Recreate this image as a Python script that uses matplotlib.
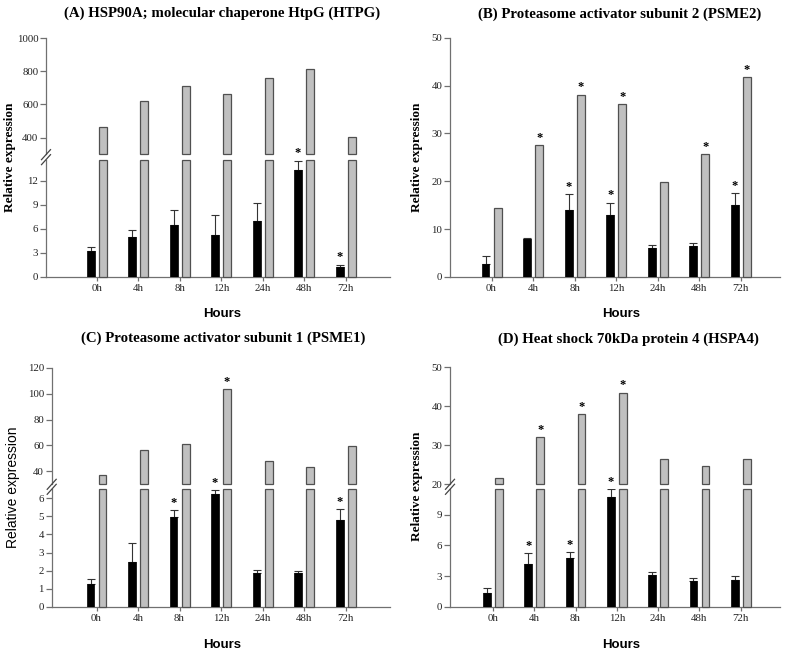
import numpy as np
import matplotlib
matplotlib.use('Agg')
import matplotlib.pyplot as plt
from matplotlib.lines import Line2D

W, H = 789, 652
hours = ['0h', '4h', '8h', '12h', '24h', '48h', '72h']

# (A) HTPG
a_black = [3.25, 4.95, 6.45, 5.25, 7.05, 13.3, 1.2]
a_black_err = [0.55, 0.9, 1.95, 2.5, 2.2, 1.2, 0.35]
a_grey = [466, 622, 710, 660, 762, 816, 404]
a_black_sig = [0, 0, 0, 0, 0, 1, 1]
a_grey_sig = [0, 0, 0, 0, 0, 0, 0]

# (B) PSME2
b_black = [2.7, 7.95, 13.9, 12.9, 6.0, 6.5, 15.1]
b_black_err = [1.6, 0.3, 3.4, 2.6, 0.7, 0.7, 2.4]
b_grey = [14.35, 27.5, 38.1, 36.1, 19.8, 25.6, 41.7]
b_black_sig = [0, 0, 1, 1, 0, 0, 1]
b_grey_sig = [0, 1, 1, 1, 0, 1, 1]

# (C) PSME1
c_black = [1.24, 2.48, 4.96, 6.22, 1.89, 1.89, 4.81]
c_black_err = [0.28, 1.04, 0.39, 0.24, 0.16, 0.09, 0.59]
c_grey = [37.4, 56.8, 61.4, 103.5, 48.3, 43.1, 59.9]
c_black_sig = [0, 0, 1, 1, 0, 0, 1]
c_grey_sig = [0, 0, 0, 1, 0, 0, 0]

# (D) HSPA4
d_black = [1.31, 4.18, 4.8, 10.75, 3.1, 2.55, 2.65]
d_black_err = [0.5, 1.05, 0.53, 0.75, 0.33, 0.23, 0.32]
d_grey = [21.6, 32.05, 37.95, 43.5, 26.6, 24.7, 26.5]
d_black_sig = [0, 1, 1, 1, 0, 0, 0]
d_grey_sig = [0, 1, 1, 1, 0, 0, 0]

SERIF = 'Liberation Serif'
SANS = 'Liberation Sans'
SPINE = '#707070'
GREY_FILL = '#c0c0c0'
GREY_EDGE = '#505050'
OFF = 0.145
BW = 0.19
TICKFS = 7.8

fig = plt.figure(figsize=(W / 100, H / 100), dpi=100)


def box(x0, y0, x1, y1):
    return [x0 / W, 1 - y1 / H, (x1 - x0) / W, (y1 - y0) / H]


def style(ax, xlim, ylim, yticks, bottom=True):
    ax.set_xlim(*xlim)
    ax.set_ylim(*ylim)
    ax.set_yticks(yticks)
    ax.set_yticklabels([str(t) for t in yticks], fontfamily=SERIF, fontsize=TICKFS, color='#222222')
    for s in ['top', 'right']:
        ax.spines[s].set_visible(False)
    ax.spines['left'].set_color(SPINE)
    ax.spines['left'].set_linewidth(0.9)
    ax.tick_params(axis='y', direction='out', length=4, width=0.9, color=SPINE, pad=1.5)
    if bottom:
        ax.spines['bottom'].set_color(SPINE)
        ax.spines['bottom'].set_linewidth(0.9)
        ax.set_xticks(np.arange(len(hours)))
        ax.set_xticklabels(hours, fontfamily=SERIF, fontsize=TICKFS, color='#222222')
        ax.tick_params(axis='x', direction='out', length=3, width=0.9, color=SPINE, pad=2)
    else:
        ax.spines['bottom'].set_visible(False)
        ax.set_xticks([])
    ax.set_facecolor('none')


def star(ax, x, y):
    ax.annotate('*', (x, y), xytext=(0, 1), textcoords='offset points', ha='center', va='bottom',
                fontsize=9, fontweight='bold', fontfamily=SERIF, annotation_clip=False)


def draw_bars(ax, black, berr, grey, bsig, gsig, ylim, upper=False):
    x = np.arange(len(hours))
    lo, hi = ylim
    if not upper:
        gh = [min(g, hi) for g in grey]
        ax.bar(x - OFF, black, BW, color='black', edgecolor='black', linewidth=0.5, zorder=3)
        ax.errorbar(x - OFF, black, yerr=[np.zeros(len(black)), berr], fmt='none', ecolor='#333333',
                    elinewidth=0.8, capsize=3, capthick=0.8, zorder=2)
        bars = ax.bar(x + OFF, gh, BW, color=GREY_FILL, edgecolor=GREY_EDGE, linewidth=0.9, zorder=3)
        for b in bars:
            b.set_clip_on(False)
        for i in range(len(hours)):
            if bsig[i]:
                star(ax, x[i] - OFF, black[i] + berr[i])
            if gsig[i] and grey[i] <= hi:
                star(ax, x[i] + OFF, grey[i])
    else:
        gh = [g - lo for g in grey]
        bars = ax.bar(x + OFF, gh, BW, bottom=lo, color=GREY_FILL, edgecolor=GREY_EDGE,
                      linewidth=0.9, zorder=3)
        for b in bars:
            b.set_clip_on(False)
        for i in range(len(hours)):
            if gsig[i]:
                star(ax, x[i] + OFF, grey[i])


def break_marks(x_ax, y_gap):
    for d in (-2.5, 2.5):
        xs = [(x_ax - 4.5) / W, (x_ax + 4.5) / W]
        ys = [1 - (y_gap + d + 5) / H, 1 - (y_gap + d - 5) / H]
        fig.add_artist(Line2D(xs, ys, transform=fig.transFigure, color='#444444', lw=0.9))


def broken_panel(x0, x1, up, low, xlim, ylim_up, yt_up, ylim_low, yt_low, black, berr, grey, bsig, gsig):
    axu = fig.add_axes(box(x0, up[0], x1, up[1]))
    style(axu, xlim, ylim_up, yt_up, bottom=False)
    draw_bars(axu, black, berr, grey, bsig, gsig, ylim_up, upper=True)
    axl = fig.add_axes(box(x0, low[0], x1, low[1]))
    style(axl, xlim, ylim_low, yt_low, bottom=True)
    draw_bars(axl, black, berr, grey, bsig, gsig, ylim_low, upper=False)
    break_marks(x0, (up[1] + low[0]) / 2)


# Panel A
broken_panel(46, 390, (38, 154.3), (160, 277), (-1.22, 7.07), (300, 1000), [400, 600, 800, 1000],
             (0, 14.6), [0, 3, 6, 9, 12], a_black, a_black_err, a_grey, a_black_sig, a_grey_sig)

# Panel B
axb = fig.add_axes(box(450, 37.7, 780, 277))
style(axb, (-1.0, 6.94), (0, 50), [0, 10, 20, 30, 40, 50], bottom=True)
draw_bars(axb, b_black, b_black_err, b_grey, b_black_sig, b_grey_sig, (0, 50))

# Panel C
broken_panel(51.7, 390, (367.7, 484.3), (489.3, 606.7), (-1.08, 7.07), (30, 120), [40, 60, 80, 100, 120],
             (0, 6.5), [0, 1, 2, 3, 4, 5, 6], c_black, c_black_err, c_grey, c_black_sig, c_grey_sig)

# Panel D
broken_panel(450, 780, (367.3, 484.3), (489.3, 606.7), (-1.04, 6.95), (20, 50), [20, 30, 40, 50],
             (0, 11.5), [0, 3, 6, 9], d_black, d_black_err, d_grey, d_black_sig, d_grey_sig)


def ftext(x, y, s, **kw):
    fig.text(x / W, 1 - y / H, s, ha='center', va='center', **kw)


TFS = 10.7
ftext(222, 13, '(A) HSP90A; molecular chaperone HtpG (HTPG)', fontfamily=SERIF, fontweight='bold', fontsize=TFS)
ftext(620, 14, '(B) Proteasome activator subunit 2 (PSME2)', fontfamily=SERIF, fontweight='bold', fontsize=TFS)
ftext(223, 338, '(C) Proteasome activator subunit 1 (PSME1)', fontfamily=SERIF, fontweight='bold', fontsize=TFS)
ftext(628, 339, '(D) Heat shock 70kDa protein 4 (HSPA4)', fontfamily=SERIF, fontweight='bold', fontsize=TFS)

ftext(10, 157, 'Relative expression', rotation=90, fontfamily=SERIF, fontweight='bold', fontsize=9.5)
ftext(417, 157, 'Relative expression', rotation=90, fontfamily=SERIF, fontweight='bold', fontsize=9.5)
ftext(13, 487, 'Relative expression', rotation=90, fontfamily=SANS, fontsize=10)
ftext(417, 486, 'Relative expression', rotation=90, fontfamily=SERIF, fontweight='bold', fontsize=9.5)

ftext(222, 314, 'Hours', fontfamily=SANS, fontweight='bold', fontsize=9.5)
ftext(621, 314, 'Hours', fontfamily=SANS, fontweight='bold', fontsize=9.5)
ftext(222, 645, 'Hours', fontfamily=SANS, fontweight='bold', fontsize=9.5)
ftext(621, 645, 'Hours', fontfamily=SANS, fontweight='bold', fontsize=9.5)

fig.savefig('out.png', dpi=100)
